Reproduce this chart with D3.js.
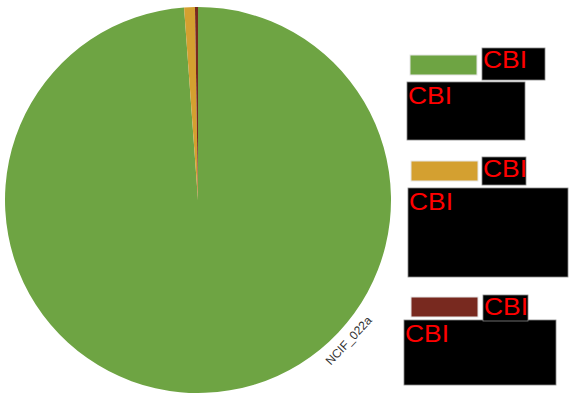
<!DOCTYPE html>
<html>
<head>
<meta charset="utf-8">
<script src="https://cdn.jsdelivr.net/npm/d3@7"></script>
<style>
  body { margin: 0; background: #fff; }
  svg { display: block; }
</style>
</head>
<body>
<div id="chart"></div>
<script>
// data
const categories = ["CBI", "CBI", "CBI"];
const shares = [98.85, 0.9, 0.25];
const sliceColors = ["#6ea443", "#d4a030", "#78291f"];
const sampleLabel = "NCIF_022a";

const width = 571, height = 396;
const cx = 198, cy = 200, radius = 193;

const svg = d3.select("#chart").append("svg")
  .attr("width", width)
  .attr("height", height);

const data = categories.map((c, i) => ({ name: c, value: shares[i], color: sliceColors[i] }));

const pie = d3.pie().sort(null).value(d => d.value);
const arc = d3.arc().innerRadius(0).outerRadius(radius);

const g = svg.append("g").attr("transform", `translate(${cx},${cy})`);

g.selectAll("path")
  .data(pie(data))
  .join("path")
  .attr("d", arc)
  .attr("fill", d => d.data.color);

// sample label, tangent to the rim at lower right
const labelAngle = 133 * Math.PI / 180;
const labelR = radius + 13;
const lx = Math.sin(labelAngle) * labelR, ly = -Math.cos(labelAngle) * labelR;
g.append("text")
  .attr("transform", `translate(${lx},${ly}) rotate(${133 - 180})`)
  .attr("text-anchor", "middle")
  .attr("dy", "0.35em")
  .style("font-family", "Liberation Sans, Arial, sans-serif")
  .style("font-size", "12px")
  .style("fill", "#333")
  .text(sampleLabel);

// legend (swatch, name box, and a larger redacted description box per row)
const rows = [
  { sw: [410, 55], tag: [482, 48, 63, 32], box: [407, 82, 118, 58] },
  { sw: [411, 161], tag: [482, 157, 44, 28], box: [408, 188, 160, 89] },
  { sw: [411, 297], tag: [483, 295, 45, 26], box: [404, 320, 152, 65] }
];

const legend = svg.append("g");
function redText(x, y, t) {
  legend.append("text")
    .attr("x", x).attr("y", y)
    .attr("textLength", 44)
    .attr("lengthAdjust", "spacingAndGlyphs")
    .style("font-family", "Liberation Sans, Arial, sans-serif")
    .style("font-size", "24px")
    .style("fill", "#ff0000")
    .text(t);
}
rows.forEach((r, i) => {
  legend.append("rect")
    .attr("x", r.sw[0]).attr("y", r.sw[1])
    .attr("width", 67).attr("height", 20)
    .attr("fill", sliceColors[i])
    .attr("stroke", "#e6e6e6").attr("stroke-width", 1);

  legend.append("rect")
    .attr("x", r.box[0]).attr("y", r.box[1])
    .attr("width", r.box[2]).attr("height", r.box[3])
    .attr("fill", "#000").attr("stroke", "#888").attr("stroke-width", 0.8);
  legend.append("rect")
    .attr("x", r.tag[0]).attr("y", r.tag[1])
    .attr("width", r.tag[2]).attr("height", r.tag[3])
    .attr("fill", "#000").attr("stroke", "#888").attr("stroke-width", 0.8);

  redText(r.tag[0] + 1, r.tag[1] + 20, categories[i]);
  redText(r.box[0] + 1, r.box[1] + 22, categories[i]);
});
</script>
</body>
</html>
